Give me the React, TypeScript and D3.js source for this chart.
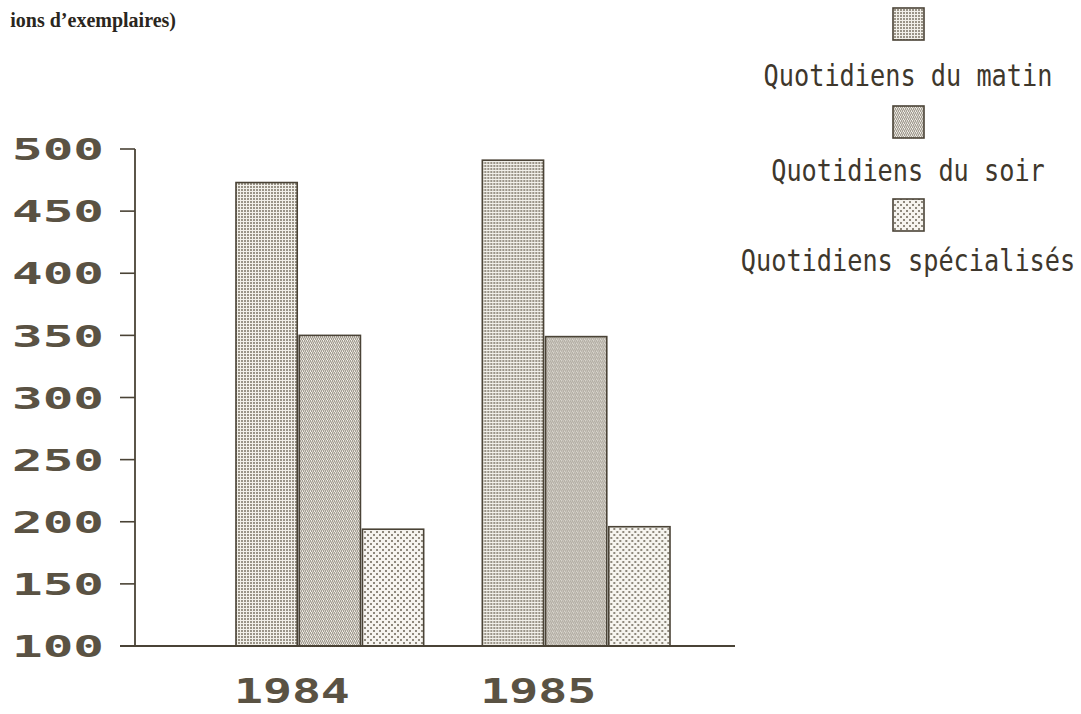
import React from "react";
import * as d3 from "d3";

const years = ["1984", "1985"];
const seriesNames = ["Quotidiens du matin", "Quotidiens du soir", "Quotidiens spécialisés"];
const matin = [473, 491];
const soir = [350, 349];
const specialises = [194, 196];
const yTicks = [100, 150, 200, 250, 300, 350, 400, 450, 500];
const titleText = "ions d’exemplaires)";

const W = 1081;
const H = 714;
const INK = "#4a4336";
const patternIds = ["pMatin", "pSoir", "pSpec"];

export default function App() {
  const values = [matin, soir, specialises];
  const y = d3.scaleLinear().domain([100, 500]).range([646, 149]);
  const x0 = d3.scaleBand().domain(years).range([235, 671]).paddingInner(0.23).paddingOuter(0);
  const x1 = d3.scaleBand().domain(seriesNames).range([0, x0.bandwidth()]).padding(0);

  return (
    <div style={{ position: "absolute", left: 0, top: 0 }}>
      <svg width={W} height={H} style={{ display: "block", background: "#ffffff" }}>
        <defs>
          <pattern id="pMatin" width="3" height="3" patternUnits="userSpaceOnUse">
            <rect width="3" height="3" fill="#f2f0ea" />
            <rect x="0" y="0" width="2" height="2" fill="#9a9488" />
          </pattern>
          <pattern id="pSoir" width="4" height="4" patternUnits="userSpaceOnUse">
            <rect width="4" height="4" fill="#f2f0ea" />
            <path d="M0,4 L2,0 M2,4 L4,0" stroke="#8a8376" strokeWidth="1" />
          </pattern>
          <pattern id="pSpec" width="6" height="6" patternUnits="userSpaceOnUse">
            <rect width="6" height="6" fill="#f6f4ef" />
            <rect x="0" y="0" width="2" height="2" fill="#8e887c" />
            <rect x="3" y="3" width="2" height="2" fill="#8e887c" />
          </pattern>
        </defs>

        <text x={176} y={27} textAnchor="end" fontFamily="'Liberation Serif', serif" fontWeight="bold" fontSize={20} fill="#2a2620">
          {titleText}
        </text>

        {/* bars */}
        {years.map((yr, gi) => (
          <g key={yr} transform={`translate(${x0(yr)},0)`}>
            {seriesNames.map((s, si) => {
              const v = values[si][gi];
              return (
                <rect
                  key={s}
                  x={x1(s)! + 1}
                  y={y(v)}
                  width={x1.bandwidth() - 2}
                  height={y(100) - y(v)}
                  fill={`url(#${patternIds[si]})`}
                  stroke={INK}
                  strokeWidth={1.6}
                />
              );
            })}
          </g>
        ))}

        {/* y axis */}
        <line x1={135} x2={135} y1={y(500)} y2={y(100)} stroke={INK} strokeWidth={1.8} />
        <line x1={120} x2={735} y1={y(100)} y2={y(100)} stroke={INK} strokeWidth={1.8} />
        {yTicks.map((t) => (
          <g key={t}>
            {t !== 100 && <line x1={120} x2={135} y1={y(t)} y2={y(t)} stroke={INK} strokeWidth={1.6} />}
            <text
              x={12}
              y={y(t)}
              dy="0.36em"
              textLength={92}
              lengthAdjust="spacingAndGlyphs"
              fontFamily="'DejaVu Sans Mono', monospace"
              fontWeight="bold"
              fontSize={31}
              fill="#5a5243"
            >
              {String(t)}
            </text>
          </g>
        ))}

        {/* x labels */}
        {years.map((yr) => (
          <text
            key={yr}
            x={x0(yr)! + x0.bandwidth() * 0.3}
            y={703}
            textAnchor="middle"
            textLength={116}
            lengthAdjust="spacingAndGlyphs"
            fontFamily="'DejaVu Sans Mono', monospace"
            fontWeight="bold"
            fontSize={34}
            fill="#5a5243"
          >
            {yr}
          </text>
        ))}

        {/* legend */}
        {seriesNames.map((s, i) => {
          const swTop = [8, 106, 199][i];
          const base = [86, 181, 271][i];
          return (
            <g key={s}>
              <rect x={893} y={swTop} width={31} height={32} fill={`url(#${patternIds[i]})`} stroke={INK} strokeWidth={1.6} />
              <text
                transform={`translate(908,${base}) scale(0.842,1)`}
                textAnchor="middle"
                fontFamily="'DejaVu Sans Mono', monospace"
                fontSize={30}
                fill="#3e372c"
              >
                {s}
              </text>
            </g>
          );
        })}
      </svg>
    </div>
  );
}
